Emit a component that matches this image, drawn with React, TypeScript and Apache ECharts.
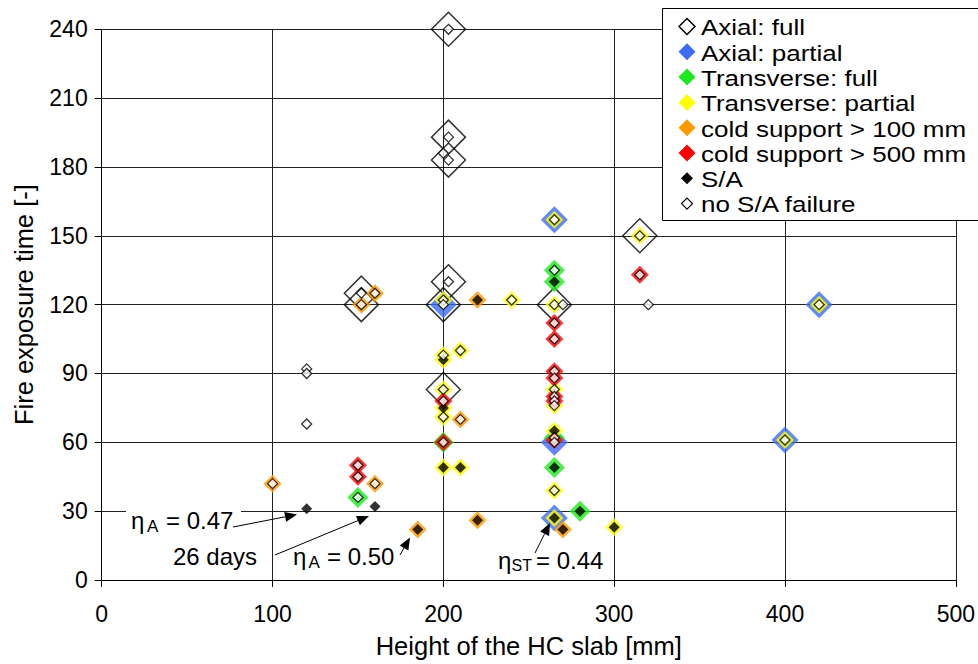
import React, { useEffect, useRef } from "react";
import * as echarts from "echarts";

const FONT = "'Liberation Sans', Arial, sans-serif";

const seriesNames = [
  "Axial: full",
  "Axial: partial",
  "Transverse: full",
  "Transverse: partial",
  "cold support > 100 mm",
  "cold support > 500 mm",
  "S/A",
  "no S/A failure",
];

const xTicks = [0, 100, 200, 300, 400, 500];
const yTicks = [0, 30, 60, 90, 120, 150, 180, 210, 240];

// [height mm, fire exposure time]
const axialFull = [
  [203, 240], [203, 193], [203, 183], [152, 125], [152, 120],
  [203, 130], [200, 120], [265, 120], [200, 83], [315, 150],
];
const axialPartial = [
  [265, 157], [200, 120], [265, 60], [265, 27], [420, 120], [400, 61],
];
const transverseFull = [
  [265, 135], [265, 130], [150, 36], [200, 60], [265, 62], [265, 49], [280, 30],
];
const transversePartial = [
  [265, 157], [315, 150], [420, 120], [400, 61], [265, 27], [200, 122],
  [240, 122], [265, 120], [200, 98], [200, 96], [210, 100], [200, 83],
  [200, 75], [200, 71], [265, 83], [265, 76], [265, 65], [200, 49],
  [210, 49], [265, 39], [300, 23],
];
const coldSupport100 = [
  [100, 42], [152, 120], [160, 125], [220, 122], [160, 42], [185, 22],
  [210, 70], [220, 26], [270, 22],
];
const coldSupport500 = [
  [265, 112], [265, 105], [315, 133], [150, 50], [150, 45], [200, 78],
  [200, 60], [265, 91], [265, 88], [265, 80], [265, 78], [265, 61],
];
const saFailure = [
  [120, 31], [160, 32], [185, 22], [220, 122], [265, 130], [200, 96],
  [200, 75], [200, 49], [210, 49], [220, 26], [265, 65], [265, 49],
  [265, 27], [270, 22], [280, 30], [300, 23],
];
const noSaFailure = [
  [203, 240], [203, 193], [203, 183], [200, 186], [152, 125], [152, 120],
  [160, 125], [203, 130], [200, 122], [200, 120], [240, 122], [265, 157],
  [265, 135], [265, 120], [270, 120], [265, 112], [265, 105], [315, 150],
  [315, 133], [320, 120], [420, 120], [120, 92], [120, 90], [120, 68],
  [100, 42], [150, 50], [150, 45], [150, 36], [160, 42], [200, 98],
  [210, 100], [200, 83], [200, 78], [200, 71], [210, 70], [200, 60],
  [265, 91], [265, 88], [265, 83], [265, 80], [265, 78], [265, 76],
  [265, 62], [265, 60], [265, 39], [400, 61],
];

const BLUE = "#3a6cf6";
const GREEN = "#1ee81e";
const YELLOW = "#ffff00";
const ORANGE = "#ff9900";
const RED = "#ff0000";

function diamond(cx: number, cy: number, h: number, fill: string, stroke?: string, lw = 1.2) {
  return {
    type: "polygon",
    z: 101,
    shape: { points: [[cx, cy - h], [cx + h, cy], [cx, cy + h], [cx - h, cy]] },
    style: { fill, stroke: stroke || null, lineWidth: stroke ? lw : 0 },
  };
}

function txt(x: number, y: number, text: string, size: number, scaleY = 1) {
  return {
    type: "text",
    z: 101,
    x,
    y,
    scaleY,
    style: {
      text,
      fill: "#000",
      fontSize: size,
      fontFamily: FONT,
      align: "left",
      verticalAlign: "middle",
    },
  };
}

function arrow(x1: number, y1: number, x2: number, y2: number) {
  const dx = x2 - x1;
  const dy = y2 - y1;
  const len = Math.sqrt(dx * dx + dy * dy);
  const ux = dx / len;
  const uy = dy / len;
  const hl = 12;
  const hw = 5;
  const bx = x2 - ux * hl;
  const by = y2 - uy * hl;
  return [
    {
      type: "line",
      z: 102,
      shape: { x1, y1, x2: bx, y2: by },
      style: { stroke: "#000", lineWidth: 1 },
    },
    {
      type: "polygon",
      z: 102,
      shape: {
        points: [
          [x2, y2],
          [bx - uy * hw, by + ux * hw],
          [bx + uy * hw, by - ux * hw],
        ],
      },
      style: { fill: "#000" },
    },
  ];
}

function scatter(name: string, data: number[][], size: number, itemStyle: any) {
  return {
    name,
    type: "scatter",
    symbol: "diamond",
    symbolSize: size,
    data,
    itemStyle,
    emphasis: { disabled: true },
  };
}

export default function App() {
  const ref = useRef<HTMLDivElement>(null);

  useEffect(() => {
    if (!ref.current) return;
    const chart = echarts.init(ref.current, null, { renderer: "svg" });

    const legendX = 687;
    const legendTextX = 701;
    const rowY = (i: number) => 26.5 + i * 25.3;
    const legendIcons = [
      diamond(legendX, rowY(0), 8, "#fff", "#000", 1.5),
      diamond(legendX, rowY(1), 8.5, BLUE),
      diamond(legendX, rowY(2), 8.5, GREEN),
      diamond(legendX, rowY(3), 8.5, YELLOW),
      diamond(legendX, rowY(4), 8.5, ORANGE),
      diamond(legendX, rowY(5), 8.5, RED),
      diamond(legendX, rowY(6), 6, "#000"),
      diamond(legendX, rowY(7), 5.5, "#fff", "#000", 1.2),
    ];
    const legendTexts = seriesNames.map((n, i) => txt(legendTextX, rowY(i) + 1, n, 26, 0.86));

    const graphic: any[] = [
      {
        type: "rect",
        z: 100,
        shape: { x: 662.5, y: 8.5, width: 330, height: 212 },
        style: { fill: "#fff", stroke: "#000", lineWidth: 1 },
      },
      ...legendIcons,
      ...legendTexts,
      // white box behind eta_A = 0.47
      {
        type: "rect",
        z: 100,
        shape: { x: 126, y: 507, width: 115, height: 33 },
        style: { fill: "#fff" },
      },
      txt(131, 520.7, "η", 24),
      txt(147, 526.5, "A", 17),
      txt(166, 520.7, "= 0.47", 24),
      txt(173, 556.7, "26 days", 24),
      txt(293, 556.7, "η", 24),
      txt(308.5, 562.5, "A", 17),
      txt(327, 556.7, "= 0.50", 24),
      txt(498, 560, "η", 24),
      txt(511.5, 565.5, "ST", 16),
      txt(536, 560, "= 0.44", 24),
      ...arrow(233, 527, 297, 514.5),
      ...arrow(275, 555, 369, 516),
      ...arrow(400, 555, 410, 537.5),
      ...arrow(535, 553, 550, 523),
    ];

    const option: any = {
      animation: false,
      backgroundColor: "#fff",
      textStyle: { fontFamily: FONT },
      grid: { left: 101.7, right: 21.5, top: 29.3, bottom: 84, containLabel: false },
      xAxis: {
        type: "value",
        min: xTicks[0],
        max: xTicks[xTicks.length - 1],
        interval: 100,
        name: "Height of the HC slab [mm]",
        nameLocation: "middle",
        nameGap: 53,
        nameTextStyle: { fontSize: 25.5, color: "#000", fontFamily: FONT },
        axisLine: { lineStyle: { color: "#000", width: 1 } },
        axisTick: { show: true, inside: false, length: 7, lineStyle: { color: "#000" } },
        axisLabel: { fontSize: 23, color: "#000", margin: 22, fontFamily: FONT },
        splitLine: { show: true, lineStyle: { color: "#222", width: 1 } },
      },
      yAxis: {
        type: "value",
        min: yTicks[0],
        max: yTicks[yTicks.length - 1],
        interval: 30,
        name: "Fire exposure time [-]",
        nameLocation: "middle",
        nameGap: 65,
        nameTextStyle: { fontSize: 25.5, color: "#000", fontFamily: FONT },
        axisLine: { show: true, lineStyle: { color: "#000", width: 1 } },
        axisTick: { show: true, inside: false, length: 7, lineStyle: { color: "#000" } },
        axisLabel: { fontSize: 23, color: "#000", margin: 14, fontFamily: FONT },
        splitLine: { show: true, lineStyle: { color: "#222", width: 1 } },
      },
      series: [
        scatter(seriesNames[0], axialFull, 34, {
          color: "rgba(0,0,0,0)",
          borderColor: "#000",
          borderWidth: 1.5,
        }),
        scatter(seriesNames[1], axialPartial, 27, { color: BLUE }),
        scatter(seriesNames[2], transverseFull, 21, { color: GREEN }),
        scatter(seriesNames[3], transversePartial, 18, { color: YELLOW }),
        scatter(seriesNames[4], coldSupport100, 18, { color: ORANGE }),
        scatter(seriesNames[5], coldSupport500, 18, { color: RED }),
        scatter(seriesNames[6], saFailure, 11, { color: "#000" }),
        scatter(seriesNames[7], noSaFailure, 10, {
          color: "#fff",
          borderColor: "#000",
          borderWidth: 1.3,
        }),
      ],
      graphic,
    };

    chart.setOption(option);
    return () => chart.dispose();
  }, []);

  return (
    <div
      ref={ref}
      style={{ position: "fixed", left: 0, top: 0, width: 978, height: 664 }}
    />
  );
}
